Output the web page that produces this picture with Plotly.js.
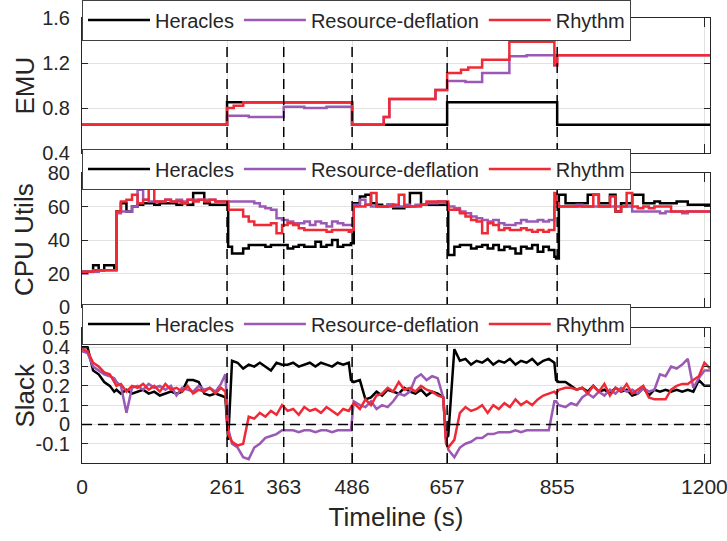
<!DOCTYPE html>
<html>
<head>
<meta charset="utf-8">
<script src="https://cdn.plot.ly/plotly-3.0.1.min.js"></script>
<style>html,body{margin:0;padding:0;background:#fff;}#chart{width:727px;height:541px;}</style>
</head>
<body>
<div id="chart"></div>
<script>
// ---------- data ----------
const seriesNames = ['Heracles', 'Resource-deflation', 'Rhythm'];
const panelTitles = ['EMU', 'CPU Utils', 'Slack'];
const eventTimes = [261, 363, 486, 657, 855];
const xTickVals = [0, 261, 363, 486, 657, 855, 1120];
const xTickText = ['0', '261', '363', '486', '657', '855', '1200'];

// EMU (step series)
const emuTimeHeracles = [0, 261, 486, 657, 855, 1130];
const emuHeracles = [0.65, 0.85, 0.65, 0.85, 0.65, 0.65];
const emuTimeDeflation = [0, 261, 300, 363, 400, 440, 486, 543, 553, 636, 657, 690, 720, 769, 800, 850, 855, 1130];
const emuDeflation = [0.65, 0.73, 0.72, 0.81, 0.80, 0.81, 0.65, 0.72, 0.88, 0.96, 1.04, 1.03, 1.11, 1.26, 1.27, 1.18, 1.27, 1.27];
const emuTimeRhythm = [0, 261, 273, 290, 486, 543, 553, 636, 657, 682, 695, 720, 769, 850, 855, 1130];
const emuRhythm = [0.65, 0.80, 0.82, 0.85, 0.65, 0.72, 0.88, 0.96, 1.11, 1.14, 1.16, 1.23, 1.39, 1.18, 1.27, 1.27];

// shared timeline for CPU and slack
const timeline = [
  0, 10, 20, 30, 40, 50, 58, 62, 70, 80,
  90, 100, 110, 120, 130, 140, 150, 160, 170, 180,
  190, 200, 210, 220, 230, 240, 250, 258, 263, 270,
  280, 290, 300, 310, 320, 330, 340, 350, 360, 370,
  380, 390, 400, 410, 420, 430, 440, 450, 460, 470,
  480, 484, 489, 500, 510, 520, 530, 540, 550, 560,
  570, 580, 590, 600, 610, 620, 630, 640, 650, 655,
  659, 670, 680, 690, 700, 710, 720, 730, 740, 750,
  760, 770, 780, 790, 800, 810, 820, 830, 840, 850,
  853, 858, 870, 880, 890, 900, 910, 920, 930, 940,
  950, 960, 970, 980, 990, 1000, 1010, 1020, 1030, 1040,
  1050, 1060, 1070, 1080, 1090, 1100, 1110, 1120, 1130
];

const cpuHeracles = [
  21, 21, 25, 22, 25, 25, 23, 57, 62, 57,
  60, 61, 62, 62, 61, 62, 62, 62, 61, 62,
  61, 68, 68, 62, 61, 61, 61, 61, 36, 32,
  32, 35, 37, 37, 37, 36, 37, 37, 37, 35,
  36, 37, 36, 36, 39, 36, 37, 40, 36, 37,
  37, 38, 62, 66, 67, 62, 61, 60, 61, 59,
  59, 60, 68, 68, 61, 61, 61, 61, 61, 61,
  31, 36, 37, 37, 35, 36, 37, 35, 37, 34,
  36, 35, 32, 36, 35, 37, 33, 36, 34, 30,
  29, 67, 62, 62, 62, 62, 67, 67, 62, 62,
  67, 57, 62, 62, 67, 67, 62, 62, 63, 62,
  62, 62, 63, 63, 61, 61, 61, 61, 61
];
const cpuDeflation = [
  20, 21, 21, 22, 22, 22, 22, 56, 57, 57,
  60, 70, 64, 63, 63, 63, 64, 63, 64, 63,
  64, 64, 64, 64, 64, 63, 63, 63, 63, 63,
  63, 63, 63, 62, 60, 59, 58, 53, 52, 51,
  50, 50, 51, 49, 51, 50, 48, 51, 50, 49,
  49, 49, 61, 64, 61, 60, 60, 60, 61, 60,
  60, 61, 60, 61, 61, 62, 62, 63, 63, 62,
  60, 59, 57, 56, 54, 53, 52, 51, 52, 50,
  49, 49, 50, 52, 51, 51, 52, 51, 52, 60,
  60, 60, 60, 60, 61, 60, 60, 60, 60, 60,
  60, 60, 60, 60, 57, 57, 57, 57, 57, 56,
  57, 57, 57, 56, 57, 57, 57, 57, 57
];
const cpuRhythm = [
  21, 21, 22, 22, 22, 22, 22, 57, 63, 64,
  67, 62, 64, 73, 63, 63, 64, 63, 63, 62,
  64, 63, 64, 63, 64, 63, 63, 63, 58, 58,
  58, 54, 51, 49, 49, 49, 50, 44, 49, 50,
  49, 47, 46, 46, 46, 46, 45, 46, 46, 46,
  45, 46, 60, 60, 61, 68, 60, 60, 60, 61,
  67, 60, 60, 60, 61, 63, 63, 63, 63, 63,
  58, 58, 56, 54, 52, 51, 44, 50, 49, 46,
  47, 46, 46, 47, 46, 45, 46, 45, 46, 68,
  62, 60, 60, 60, 60, 60, 60, 67, 60, 60,
  66, 57, 60, 68, 60, 59, 60, 59, 60, 60,
  60, 57, 57, 57, 57, 57, 57, 57, 57
];

const slackHeracles = [
  0.40, 0.40, 0.28, 0.26, 0.22, 0.20, 0.17, 0.18, 0.16, 0.18,
  0.16, 0.17, 0.18, 0.16, 0.17, 0.15, 0.16, 0.17, 0.16, 0.17,
  0.23, 0.23, 0.22, 0.16, 0.15, 0.16, 0.15, 0.14, -0.08, 0.33,
  0.32, 0.29, 0.31, 0.30, 0.32, 0.30, 0.28, 0.32, 0.31, 0.31,
  0.32, 0.30, 0.31, 0.32, 0.30, 0.32, 0.31, 0.30, 0.32, 0.31,
  0.32, 0.23, 0.22, 0.23, 0.13, 0.14, 0.17, 0.15, 0.18, 0.17,
  0.16, 0.19, 0.17, 0.16, 0.18, 0.15, 0.17, 0.16, 0.14, -0.07,
  -0.06, 0.39, 0.33, 0.34, 0.31, 0.33, 0.32, 0.34, 0.31, 0.33,
  0.32, 0.34, 0.31, 0.33, 0.32, 0.34, 0.31, 0.33, 0.34, 0.32,
  0.23, 0.22, 0.22, 0.20, 0.18, 0.19, 0.17, 0.20, 0.17, 0.18,
  0.16, 0.19, 0.17, 0.18, 0.15, 0.16, 0.19, 0.15, 0.18, 0.17,
  0.18, 0.17, 0.18, 0.17, 0.18, 0.17, 0.23, 0.20, 0.20
];
const slackDeflation = [
  0.38, 0.37, 0.30, 0.28, 0.26, 0.25, 0.24, 0.22, 0.20, 0.06,
  0.19, 0.20, 0.18, 0.21, 0.19, 0.20, 0.18, 0.20, 0.15, 0.19,
  0.18, 0.17, 0.20, 0.18, 0.19, 0.17, 0.21, 0.26, -0.02, -0.10,
  -0.12, -0.17, -0.18, -0.12, -0.10, -0.07, -0.06, -0.05, -0.03, -0.03,
  -0.03, -0.04, -0.03, -0.03, -0.04, -0.03, -0.03, -0.04, -0.03, -0.03,
  -0.03, -0.03, 0.12, 0.10, 0.09, 0.12, 0.08, 0.10, 0.09, 0.12,
  0.16, 0.15, 0.17, 0.24, 0.26, 0.23, 0.25, 0.24, 0.14, -0.08,
  -0.13, -0.17, -0.12, -0.10, -0.09, -0.07, -0.07, -0.05, -0.05, -0.04,
  -0.04, -0.04, -0.03, -0.04, -0.03, -0.03, -0.03, -0.03, -0.03, 0.12,
  0.12, 0.10, 0.09, 0.11, 0.10, 0.14, 0.16, 0.14, 0.17, 0.15,
  0.18, 0.16, 0.19, 0.17, 0.18, 0.16, 0.19, 0.17, 0.18, 0.26,
  0.25, 0.30, 0.29, 0.31, 0.34, 0.19, 0.24, 0.28, 0.28
];
const slackRhythm = [
  0.39, 0.38, 0.32, 0.30, 0.27, 0.26, 0.22, 0.20, 0.21, 0.17,
  0.20, 0.19, 0.21, 0.18, 0.20, 0.17, 0.21, 0.18, 0.19, 0.17,
  0.20, 0.16, 0.18, 0.17, 0.19, 0.16, 0.19, 0.17, -0.05, -0.09,
  -0.11, -0.10, 0.04, 0.03, 0.06, 0.04, 0.07, 0.05, 0.10, 0.07,
  0.08, 0.05, 0.09, 0.07, 0.08, 0.06, 0.09, 0.07, 0.05, 0.08,
  0.07, 0.09, 0.11, 0.08, 0.13, 0.10, 0.15, 0.16, 0.19, 0.17,
  0.22, 0.18, 0.19, 0.17, 0.20, 0.18, 0.17, 0.15, 0.14, -0.10,
  -0.12, -0.08, 0.06, 0.09, 0.07, 0.08, 0.10, 0.06, 0.10, 0.08,
  0.11, 0.09, 0.13, 0.10, 0.12, 0.10, 0.13, 0.15, 0.16, 0.17,
  0.16, 0.18, 0.19, 0.19, 0.18, 0.19, 0.16, 0.20, 0.17, 0.21,
  0.15, 0.19, 0.17, 0.21, 0.16, 0.18, 0.20, 0.14, 0.13, 0.13,
  0.13, 0.18, 0.20, 0.21, 0.21, 0.23, 0.25, 0.32, 0.29
];

// ---------- styling ----------
const colors = ['#000000', '#9b59b6', '#ef2a36'];
const FONT = 'Liberation Sans, Arial, Helvetica, sans-serif';
const TXT = '#262626';

function mk(x, y, i, xa, ya, leg, shape) {
  return {
    x: x, y: y, type: 'scatter', mode: 'lines',
    name: seriesNames[i], xaxis: xa, yaxis: ya, legend: leg,
    line: {color: colors[i], width: 2.5, shape: shape || 'linear'}
  };
}

const traces = [
  mk(emuTimeHeracles, emuHeracles, 0, 'x', 'y', 'legend', 'hv'),
  mk(emuTimeDeflation, emuDeflation, 1, 'x', 'y', 'legend', 'hv'),
  mk(emuTimeRhythm, emuRhythm, 2, 'x', 'y', 'legend', 'hv'),
  mk(timeline, cpuHeracles, 0, 'x2', 'y2', 'legend2', 'hv'),
  mk(timeline, cpuDeflation, 1, 'x2', 'y2', 'legend2', 'hv'),
  mk(timeline, cpuRhythm, 2, 'x2', 'y2', 'legend2', 'hv'),
  mk(timeline, slackHeracles, 0, 'x3', 'y3', 'legend3'),
  mk(timeline, slackDeflation, 1, 'x3', 'y3', 'legend3'),
  mk(timeline, slackRhythm, 2, 'x3', 'y3', 'legend3')
];

const W = 727, H = 541, L = 82, R = 17, T = 18, B = 78;
const plotH = H - T - B, plotW = W - L - R;
function py(px) { return (H - B - px) / plotH; }
function dom(topPx, botPx) { return [py(botPx), py(topPx)]; }

function xAxis(anchor, labels) {
  const a = {
    anchor: anchor, range: [0, 1130], tickmode: 'array',
    tickvals: xTickVals, ticktext: xTickText,
    showticklabels: labels, ticks: 'inside', ticklen: 9, tickwidth: 1, tickcolor: TXT,
    showline: true, linecolor: TXT, linewidth: 1, mirror: 'allticks',
    showgrid: true, gridcolor: '#e2e2e2', gridwidth: 1, zeroline: false,
    tickfont: {family: FONT, size: 21, color: TXT}, ticklabelstandoff: 5,
    ticklabeloverflow: 'allow', automargin: false
  };
  if (anchor !== 'y3') a.matches = 'x3';
  return a;
}
function yAxis(anchor, domain, range, tickvals, ticktext) {
  return {
    anchor: anchor, domain: domain, range: range, tickmode: 'array',
    tickvals: tickvals, ticktext: ticktext,
    ticks: 'inside', ticklen: 6, tickwidth: 1, tickcolor: TXT,
    showline: true, linecolor: TXT, linewidth: 1, mirror: 'allticks',
    showgrid: true, gridcolor: '#e2e2e2', gridwidth: 1, zeroline: false,
    tickfont: {family: FONT, size: 20, color: TXT}, ticklabelstandoff: 7,
    ticklabeloverflow: 'allow', automargin: false
  };
}

const legendBase = {
  orientation: 'h', x: 0, xanchor: 'left', yanchor: 'middle',
  bgcolor: '#ffffff', bordercolor: '#404040', borderwidth: 1,
  font: {family: FONT, size: 20, color: TXT}, itemwidth: 62,
  itemclick: false, itemdoubleclick: false
};

const shapes = [];
[['x', 'y'], ['x2', 'y2'], ['x3', 'y3']].forEach(function(p) {
  eventTimes.forEach(function(t) {
    shapes.push({type: 'line', xref: p[0], yref: p[1] + ' domain', x0: t, x1: t, y0: 0, y1: 1,
      line: {color: '#000000', width: 1.5, dash: '10px,6px'}, layer: 'above'});
  });
});
shapes.push({type: 'line', xref: 'x3 domain', yref: 'y3', x0: 0, x1: 1, y0: 0, y1: 0,
  line: {color: '#000000', width: 1.5, dash: '10px,6px'}, layer: 'above'});

const domains = [dom(18, 153), dom(173, 307), dom(328, 463)];
const annotations = panelTitles.map(function(t, i) {
  return {text: t, xref: 'paper', yref: 'paper', x: (24 - L) / plotW, y: (domains[i][0] + domains[i][1]) / 2,
    xanchor: 'center', yanchor: 'middle', textangle: -90, showarrow: false,
    font: {family: FONT, size: 26, color: TXT}};
});

const layout = {
  width: W, height: H,
  margin: {l: L, r: R, t: T, b: B, pad: 0, autoexpand: false},
  paper_bgcolor: '#ffffff', plot_bgcolor: '#ffffff',
  font: {family: FONT, color: TXT},
  showlegend: true,
  xaxis: xAxis('y', false),
  xaxis2: xAxis('y2', false),
  xaxis3: Object.assign(xAxis('y3', true), {
    title: {text: 'Timeline (s)', font: {family: FONT, size: 26, color: TXT}, standoff: 10}
  }),
  yaxis: yAxis('x', domains[0], [0.4, 1.6], [0.4, 0.8, 1.2, 1.6], ['0.4', '0.8', '1.2', '1.6']),
  yaxis2: yAxis('x2', domains[1], [0, 80], [0, 20, 40, 60, 80], ['0', '20', '40', '60', '80']),
  yaxis3: yAxis('x3', domains[2], [-0.2, 0.5], [-0.1, 0, 0.1, 0.2, 0.3, 0.4, 0.5],
    ['-0.1', '0', '0.1', '0.2', '0.3', '0.4', '0.5']),
  legend: Object.assign({}, legendBase, {y: py(20)}),
  legend2: Object.assign({}, legendBase, {y: py(169)}),
  legend3: Object.assign({}, legendBase, {y: py(324)}),
  shapes: shapes,
  annotations: annotations
};

Plotly.newPlot('chart', traces, layout, {displayModeBar: false, staticPlot: true});
</script>
</body>
</html>
